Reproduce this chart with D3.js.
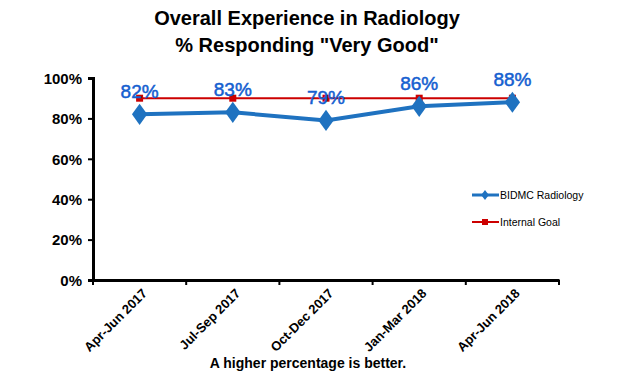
<!DOCTYPE html>
<html>
<head>
<meta charset="utf-8">
<script src="https://cdn.jsdelivr.net/npm/d3@7"></script>
<style>
  body { margin: 0; background: #fff; }
  text { font-family: "Liberation Sans", Arial, sans-serif; }
</style>
</head>
<body>
<svg id="chart" width="620" height="375"></svg>
<script>
var quarters = ['Apr-Jun 2017', 'Jul-Sep 2017', 'Oct-Dec 2017', 'Jan-Mar 2018', 'Apr-Jun 2018']
var radiology = [82, 83, 79, 86, 88]
var goal = [90, 90, 90, 90, 90]
var yTicks = [0, 20, 40, 60, 80, 100]

var svg = d3.select('#chart')
var plotLeft = 93, plotRight = 559, plotTop = 78, plotBottom = 280

var x = d3.scaleBand().domain(quarters).range([plotLeft, plotRight])
var y = d3.scaleLinear().domain([0, 100]).range([plotBottom, plotTop])
var cx = function (d, i) { return x(quarters[i]) + x.bandwidth() / 2 }

/** title */
svg.append('text').attr('x', 307).attr('y', 25).attr('text-anchor', 'middle')
  .style('font-size', '20px').style('font-weight', 'bold').text('Overall Experience in Radiology')
svg.append('text').attr('x', 307).attr('y', 52).attr('text-anchor', 'middle')
  .style('font-size', '20px').style('font-weight', 'bold').text('% Responding "Very Good"')

/** y axis */
var yAxis = svg.append('g').attr('transform', 'translate(' + plotLeft + ',0)')
  .call(d3.axisLeft(y).tickValues(yTicks).tickSize(5).tickFormat(function (d) { return d + '%' }))
yAxis.select('.domain').attr('stroke', '#000').attr('stroke-width', 3)
yAxis.selectAll('.tick line').attr('stroke', '#000').attr('stroke-width', 2)
yAxis.selectAll('.tick text').attr('x', -11).attr('dy', '0.35em')
  .style('font-size', '15px').style('font-weight', 'bold').attr('fill', '#000')

/** x axis */
var xAxis = svg.append('g').attr('transform', 'translate(0,' + plotBottom + ')')
  .call(d3.axisBottom(x).tickSize(0).tickFormat(''))
xAxis.select('.domain').attr('stroke', '#000').attr('stroke-width', 3)
xAxis.selectAll('.tick').remove()
var bounds = quarters.map(function (q) { return x(q) }).concat([plotRight])
svg.append('g').selectAll('line').data(bounds).join('line')
  .attr('x1', function (d) { return d }).attr('x2', function (d) { return d })
  .attr('y1', plotBottom).attr('y2', plotBottom + 5)
  .attr('stroke', '#000').attr('stroke-width', 2)

svg.append('g').selectAll('text').data(quarters).join('text')
  .attr('transform', function (d) {
    return 'translate(' + (x(d) + x.bandwidth() / 2 + 5) + ',' + (plotBottom + 11) + ') rotate(-45)'
  })
  .attr('text-anchor', 'end').attr('dy', '0.35em')
  .style('font-size', '13px').style('font-weight', 'bold').text(function (d) { return d })

/** goal line */
var line = d3.line().x(cx).y(function (d) { return y(d) })
svg.append('path').datum(goal).attr('d', line)
  .attr('fill', 'none').attr('stroke', '#cc0000').attr('stroke-width', 2)
svg.append('g').selectAll('rect').data(goal).join('rect')
  .attr('x', function (d, i) { return cx(d, i) - 3.5 }).attr('y', function (d) { return y(d) - 3.5 })
  .attr('width', 7).attr('height', 7).attr('fill', '#cc0000')

/** radiology line */
svg.append('path').datum(radiology).attr('d', line)
  .attr('fill', 'none').attr('stroke', '#1f72c0').attr('stroke-width', 4)
var diamond = d3.symbol().type(d3.symbolDiamond).size(130)
svg.append('g').selectAll('path').data(radiology).join('path')
  .attr('d', diamond)
  .attr('transform', function (d, i) { return 'translate(' + cx(d, i) + ',' + y(d) + ') scale(1.25,1)' })
  .attr('fill', '#1f72c0')

svg.append('g').selectAll('text').data(radiology).join('text')
  .attr('x', cx).attr('y', function (d) { return y(d) - 16 })
  .attr('text-anchor', 'middle').style('font-size', '19px')
  .attr('fill', '#1560d0').attr('stroke', '#1560d0').attr('stroke-width', 0.5)
  .text(function (d) { return d + '%' })

/** legend */
var legend = svg.append('g').attr('transform', 'translate(472,195)')
legend.append('line').attr('x1', 0).attr('x2', 27).attr('stroke', '#1f72c0').attr('stroke-width', 3)
legend.append('path').attr('d', d3.symbol().type(d3.symbolDiamond).size(30))
  .attr('transform', 'translate(13,0) scale(1.3,1)').attr('fill', '#1f72c0')
legend.append('text').attr('x', 28).attr('y', 4).style('font-size', '10.5px').text('BIDMC Radiology')
legend.append('line').attr('x1', 0).attr('x2', 27).attr('y1', 27).attr('y2', 27)
  .attr('stroke', '#cc0000').attr('stroke-width', 2)
legend.append('rect').attr('x', 10).attr('y', 24).attr('width', 6).attr('height', 6).attr('fill', '#cc0000')
legend.append('text').attr('x', 28).attr('y', 31).style('font-size', '10.5px').text('Internal Goal')

/** footnote */
svg.append('text').attr('x', 308).attr('y', 368).attr('text-anchor', 'middle')
  .style('font-size', '14px').style('font-weight', 'bold').text('A higher percentage is better.')
</script>
</body>
</html>
